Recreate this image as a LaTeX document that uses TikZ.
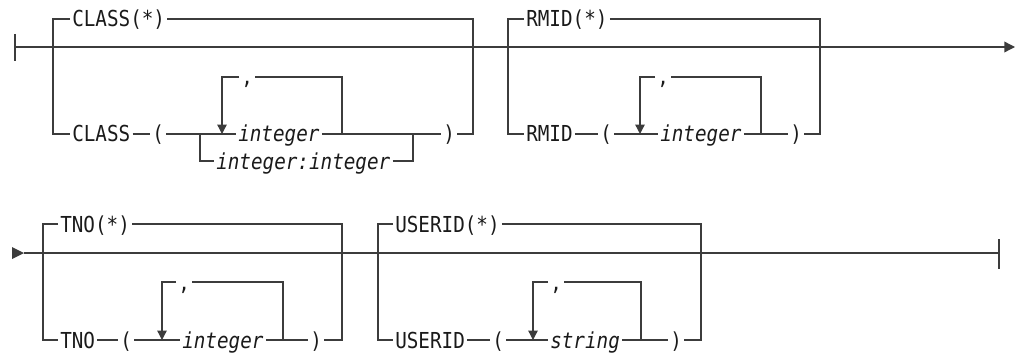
\documentclass[tikz,border=0pt]{standalone}
\usepackage{fontspec}
\setmonofont[FakeStretch=0.876]{DejaVu Sans Mono}
\usetikzlibrary{arrows.meta,positioning,calc}
\usepackage{xcolor}
\definecolor{rail}{HTML}{3C3C3C}
\definecolor{ink}{HTML}{1A1A1A}
\tikzset{
  track/.style={draw=rail, line width=1pt},
  kw/.style={anchor=west, inner xsep=1.5pt, inner ysep=0pt, text height=14pt, text depth=2pt, text=ink, font=\ttfamily\fontsize{16.5}{18}\selectfont},
  var/.style={kw, font=\ttfamily\itshape\fontsize{16.5}{18}\selectfont},
  back/.style={track, -{Triangle[length=7pt, width=7pt]}},
  fwd/.style={track, -{Triangle[length=8pt, width=8pt]}}
}
\begin{document}
\begin{tikzpicture}[x=0.75pt, y=-0.75pt]
  \useasboundingbox (0,3) rectangle (1021,356);
  % first line
  \coordinate (s1) at (15,50);
  \coordinate (e1) at (1015,50);
  \draw[track] (15,37) -- (15,64);
  \draw[fwd] (s1) -- (e1);
  % CLASS
  \coordinate (aBL) at (53,137);
  \coordinate (aBR) at (473,137);
  \coordinate (aSplit) at (200,137);
  \coordinate (aLoopL) at (222,137);
  \coordinate (aLoopR) at (342,137);
  \coordinate (aJoin) at (413,137);
  \node[kw] (classall) at (70,22) {CLASS(*)};
  \node[kw] (class) at (70,137) {CLASS};
  \node[kw] (lpa) at (150,137) {(};
  \node[var] (inta) at (236,137) {integer};
  \node[var] (range) at (214,164) {integer:integer};
  \node[kw] (cma) at (239,80) {,};
  \node[kw] (rpa) at (441,137) {)};
  \draw[track] (classall.west) -| (aBL) -- (class.west);
  \draw[track] (classall.east) -| (aBR) -- (rpa.east);
  \draw[track] (class.east) -- (lpa.west);
  \draw[track] (lpa.east) -- (inta.west);
  \draw[track] (inta.east) -- (rpa.west);
  \draw[track] (aSplit) |- (range.west);
  \draw[track] (range.east) -| (aJoin);
  \draw[track] (aLoopR) |- (cma.east);
  \draw[back] (cma.west) -| (aLoopL);
  % RMID
  \coordinate (bBL) at (508,137);
  \coordinate (bBR) at (820,137);
  \coordinate (bLoopL) at (640,137);
  \coordinate (bLoopR) at (761,137);
  \node[kw] (rmidall) at (524,22) {RMID(*)};
  \node[kw] (rmid) at (524,137) {RMID};
  \node[kw] (lpb) at (598,137) {(};
  \node[var] (intb) at (658,137) {integer};
  \node[kw] (cmb) at (655,80) {,};
  \node[kw] (rpb) at (788,137) {)};
  \draw[track] (rmidall.west) -| (bBL) -- (rmid.west);
  \draw[track] (rmidall.east) -| (bBR) -- (rpb.east);
  \draw[track] (rmid.east) -- (lpb.west);
  \draw[track] (lpb.east) -- (intb.west);
  \draw[track] (intb.east) -- (rpb.west);
  \draw[track] (bLoopR) |- (cmb.east);
  \draw[back] (cmb.west) -| (bLoopL);
  % second line
  \coordinate (s2) at (24,256);
  \coordinate (e2) at (999,256);
  \fill[rail] (12,250) -- (s2) -- (12,262) -- cycle;
  \draw[track] (s2) -- (e2);
  \draw[track] (999,242) -- (999,272);
  % TNO
  \coordinate (cBL) at (43,343);
  \coordinate (cBR) at (342,343);
  \coordinate (cLoopL) at (162,343);
  \coordinate (cLoopR) at (283,343);
  \node[kw] (tnoall) at (58,227) {TNO(*)};
  \node[kw] (tno) at (58,343) {TNO};
  \node[kw] (lpc) at (118,343) {(};
  \node[var] (intc) at (180,343) {integer};
  \node[kw] (cmc) at (176,285) {,};
  \node[kw] (rpc) at (308,343) {)};
  \draw[track] (tnoall.west) -| (cBL) -- (tno.west);
  \draw[track] (tnoall.east) -| (cBR) -- (rpc.east);
  \draw[track] (tno.east) -- (lpc.west);
  \draw[track] (lpc.east) -- (intc.west);
  \draw[track] (intc.east) -- (rpc.west);
  \draw[track] (cLoopR) |- (cmc.east);
  \draw[back] (cmc.west) -| (cLoopL);
  % USERID
  \coordinate (dBL) at (378,343);
  \coordinate (dBR) at (701,343);
  \coordinate (dLoopL) at (533,343);
  \coordinate (dLoopR) at (641,343);
  \node[kw] (userall) at (393,227) {USERID(*)};
  \node[kw] (user) at (393,343) {USERID};
  \node[kw] (lpd) at (490,343) {(};
  \node[var] (strd) at (548,343) {string};
  \node[kw] (cmd) at (548,285) {,};
  \node[kw] (rpd) at (668,343) {)};
  \draw[track] (userall.west) -| (dBL) -- (user.west);
  \draw[track] (userall.east) -| (dBR) -- (rpd.east);
  \draw[track] (user.east) -- (lpd.west);
  \draw[track] (lpd.east) -- (strd.west);
  \draw[track] (strd.east) -- (rpd.west);
  \draw[track] (dLoopR) |- (cmd.east);
  \draw[back] (cmd.west) -| (dLoopL);
\end{tikzpicture}
\end{document}
